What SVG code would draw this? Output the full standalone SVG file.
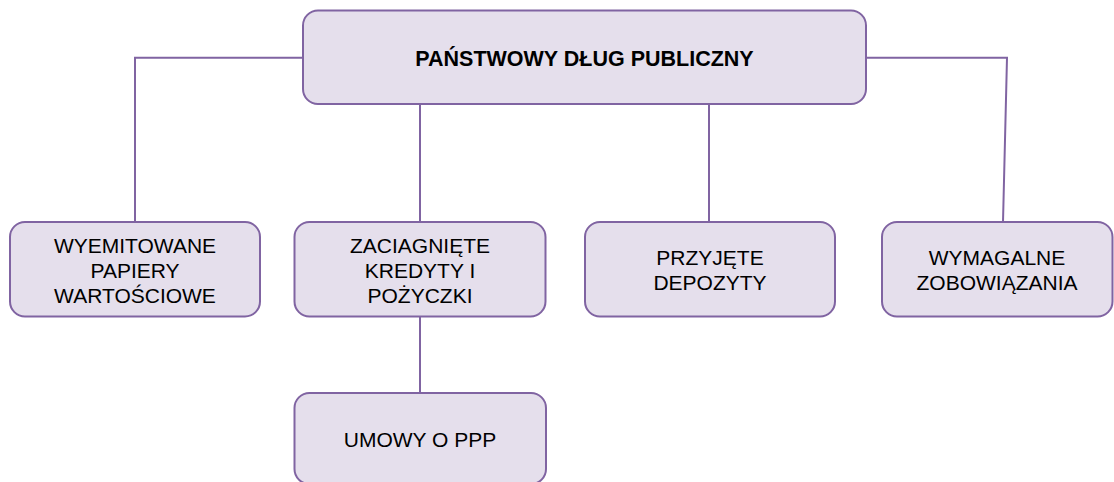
<svg xmlns="http://www.w3.org/2000/svg" width="1114" height="482" viewBox="0 0 1114 482">
  <style>
    .box { fill: #e5dfec; stroke: #8064a2; stroke-width: 2; }
    .link { fill: none; stroke: #8064a2; stroke-width: 2; }
    .label { font-family: "Liberation Sans", Arial, sans-serif; font-size: 21px; fill: #000; text-anchor: middle; }
    .title { font-weight: bold; font-size: 21.5px; }
  </style>
  <rect width="1114" height="482" fill="#fff"/>

  <!-- connectors -->
  <g id="connectors">
    <polyline class="link" points="303,57.7 135,57.7 135,222"/>
    <line class="link" x1="420" y1="104" x2="420" y2="222"/>
    <line class="link" x1="709" y1="104" x2="709" y2="222"/>
    <polyline class="link" points="866,57.7 1007,57.7 1003,222"/>
    <line class="link" x1="420" y1="316" x2="420" y2="393"/>
  </g>

  <g id="node-root">
    <rect class="box" x="303" y="10.5" width="563" height="93.5" rx="15"/>
    <text class="label title" x="584.5" y="66">PAŃSTWOWY DŁUG PUBLICZNY</text>
  </g>

  <g id="node-papiery">
    <rect class="box" x="10" y="222" width="250" height="94.5" rx="15"/>
    <text class="label" x="135" y="253">WYEMITOWANE</text>
    <text class="label" x="135" y="278">PAPIERY</text>
    <text class="label" x="135" y="303">WARTOŚCIOWE</text>
  </g>

  <g id="node-kredyty">
    <rect class="box" x="294.5" y="222" width="251" height="94.5" rx="15"/>
    <text class="label" x="420" y="253">ZACIAGNIĘTE</text>
    <text class="label" x="420" y="278">KREDYTY I</text>
    <text class="label" x="420" y="303">POŻYCZKI</text>
  </g>

  <g id="node-depozyty">
    <rect class="box" x="585" y="222" width="250" height="94.5" rx="15"/>
    <text class="label" x="710" y="265">PRZYJĘTE</text>
    <text class="label" x="710" y="290">DEPOZYTY</text>
  </g>

  <g id="node-zobowiazania">
    <rect class="box" x="882" y="222" width="230.5" height="94.5" rx="15"/>
    <text class="label" x="997" y="265">WYMAGALNE</text>
    <text class="label" x="997" y="290">ZOBOWIĄZANIA</text>
  </g>

  <g id="node-ppp">
    <rect class="box" x="294.5" y="393" width="251.5" height="91" rx="15"/>
    <text class="label" x="420" y="447">UMOWY O PPP</text>
  </g>
</svg>
